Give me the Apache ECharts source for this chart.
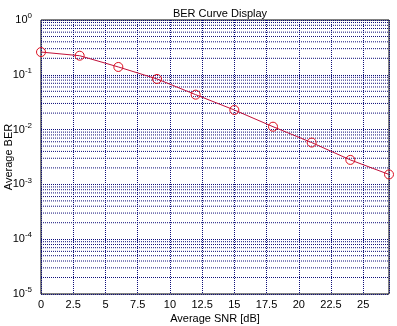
<!DOCTYPE html>
<html>
<head>
<meta charset="utf-8">
<script src="https://cdn.jsdelivr.net/npm/echarts@6/dist/echarts.min.js"></script>
<style>
html,body{margin:0;padding:0;background:#fff;}
#c{width:397px;height:326px;}
</style>
</head>
<body>
<div id="c"></div>
<script>
const snrValues = [0, 3, 6, 9, 12, 15, 18, 21, 24, 27];
const berValues = [0.26, 0.223, 0.139, 0.084, 0.0434, 0.0228, 0.0113, 0.0058, 0.0028, 0.00152];
const minorMultipliers = [2, 3, 4, 5, 6, 7, 8, 9];
const decadeExponents = [-5, -4, -3, -2, -1];
const xRange = [0, 27];
const titleText = 'BER Curve Display';
const xName = 'Average SNR [dB]';
const yName = 'Average BER';

const gridColor = '#10107a';
const font = 'Liberation Sans, Arial, sans-serif';

const minorSeries = [];
decadeExponents.forEach(e => minorMultipliers.forEach(m => {
  const v = m * Math.pow(10, e);
  minorSeries.push({
    type: 'line', silent: true, symbol: 'none', z: 1,
    data: [[xRange[0], v], [xRange[1], v]],
    lineStyle: { color: gridColor, type: [1, 1], width: 1 },
    emphasis: { disabled: true }
  });
}));

const chart = echarts.init(document.getElementById('c'));
chart.setOption({
  animation: false,
  backgroundColor: '#fff',
  title: {
    text: titleText, left: 215, top: 3, textAlign: 'center',
    textStyle: { fontFamily: font, fontSize: 11, fontWeight: 'normal', color: '#000' }
  },
  grid: {
    left: 41, top: 20, right: 8, bottom: 32,
    containLabel: false, outerBoundsMode: 'none',
    show: true, borderColor: '#000', borderWidth: 1, backgroundColor: '#fff'
  },
  xAxis: {
    type: 'value', min: xRange[0], max: xRange[1], interval: 2.5,
    name: xName, nameLocation: 'middle', nameGap: 19, nameMoveOverlap: false,
    nameTextStyle: { fontFamily: font, fontSize: 11, color: '#000' },
    axisLine: { show: false },
    axisTick: { show: false },
    axisLabel: { fontFamily: font, fontSize: 11, color: '#000', margin: 5, showMaxLabel: false },
    splitLine: { show: true, lineStyle: { color: gridColor, type: [1, 1], width: 1 } }
  },
  yAxis: {
    type: 'log', min: 1e-5, max: 1, logBase: 10,
    name: yName, nameLocation: 'middle', nameGap: 27, nameMoveOverlap: false,
    nameTextStyle: { fontFamily: font, fontSize: 11, color: '#000' },
    axisLine: { show: false },
    axisTick: { show: false },
    axisLabel: {
      margin: 9,
      formatter: function (v) {
        const e = Math.round(Math.log10(v));
        return '{b|10}{s|' + e + '}';
      },
      rich: {
        b: { fontFamily: font, fontSize: 11, color: '#000' },
        s: { fontFamily: font, fontSize: 8, color: '#000', padding: [0, 0, 8, 0] }
      }
    },
    splitLine: { show: true, lineStyle: { color: gridColor, type: [1, 1], width: 1 } }
  },
  series: minorSeries.concat([{
    type: 'line',
    data: snrValues.map((x, i) => [x, berValues[i]]),
    symbol: 'circle', symbolSize: 9, showAllSymbol: true,
    lineStyle: { color: '#c0103a', width: 1 },
    itemStyle: { color: 'rgba(0,0,0,0)', borderColor: '#dd1020', borderWidth: 1 },
    z: 5
  }])
});
</script>
</body>
</html>
